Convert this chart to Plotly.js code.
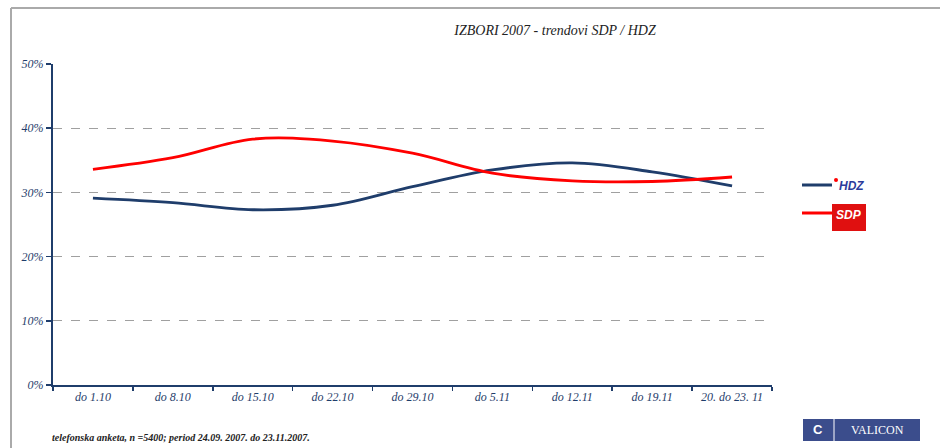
<!DOCTYPE html>
<html>
<head>
<meta charset="utf-8">
<script src="https://cdn.plot.ly/plotly-3.0.1.min.js"></script>
<style>html,body{margin:0;padding:0;background:#fff;}#chart{width:940px;height:448px;}</style>
</head>
<body>
<div id="chart"></div>
<script>
const categories = ['do 1.10','do 8.10','do 15.10','do 22.10','do 29.10','do 5.11','do 12.11','do 19.11','20. do 23. 11'];
const hdzValues = [29.1, 28.4, 27.3, 28.0, 30.9, 33.5, 34.6, 33.2, 31.0];
const sdpValues = [33.6, 35.4, 38.3, 38.0, 36.1, 33.0, 31.8, 31.7, 32.4];
const yTickValues = [0, 10, 20, 30, 40, 50];
const titleText = 'IZBORI 2007 - trendovi SDP / HDZ';
const footText = 'telefonska anketa, n =5400; period 24.09. 2007. do 23.11.2007.';

const navy = '#1f3d6b';
const red = '#ff0000';
const L = 53, R = 772, T = 64, B = 385;
const px = X => (X - L) / (R - L);
const py = Y => (B - Y) / (B - T);

const traces = [
  {x: categories, y: hdzValues, name: 'HDZ', type: 'scatter', mode: 'lines',
   line: {color: navy, width: 2.8, shape: 'spline', smoothing: 1}},
  {x: categories, y: sdpValues, name: 'SDP', type: 'scatter', mode: 'lines',
   line: {color: red, width: 2.8, shape: 'spline', smoothing: 1}}
];

const tickFont = {family: 'Liberation Serif', size: 12, color: navy};

const layout = {
  width: 940, height: 448,
  margin: {l: L, r: 940 - R, t: T, b: 448 - B, pad: 0},
  paper_bgcolor: '#fff', plot_bgcolor: '#fff',
  showlegend: false,
  title: {text: '<i>' + titleText + '</i>', x: 555 / 940, xanchor: 'center', y: 1 - 30 / 448, yanchor: 'middle',
          font: {family: 'Liberation Serif', size: 14, color: '#222'}},
  xaxis: {type: 'category', showgrid: false, zeroline: false, showline: true, linecolor: navy, linewidth: 2,
          tickmode: 'array', tickvals: categories, ticktext: categories.map(c => '<i>' + c + '</i>'),
          ticks: 'outside', ticklen: 4, tickcolor: navy, tickwidth: 1.5, tickson: 'boundaries',
          tickfont: tickFont, range: [-0.5, categories.length - 0.5], fixedrange: true},
  yaxis: {range: [0, 50], tickmode: 'array', tickvals: yTickValues, ticktext: yTickValues.map(v => '<i>' + v + '%</i>'),
          showgrid: true, gridcolor: '#a0a0a0', griddash: 'dash', gridwidth: 1, zeroline: false,
          showline: true, linecolor: navy, linewidth: 2, ticks: 'outside', ticklen: 5, tickcolor: navy, tickwidth: 1.5,
          tickfont: tickFont, fixedrange: true},
  shapes: [
    {type: 'line', xref: 'paper', yref: 'paper', x0: px(11), x1: px(940), y0: py(8), y1: py(8), line: {color: '#aaa', width: 2}},
    {type: 'line', xref: 'paper', yref: 'paper', x0: px(11), x1: px(11), y0: py(8), y1: py(448), line: {color: '#aaa', width: 2}},
    {type: 'line', xref: 'paper', yref: 'paper', x0: px(802), x1: px(832), y0: py(185), y1: py(185), line: {color: navy, width: 3}},
    {type: 'line', xref: 'paper', yref: 'paper', x0: px(802), x1: px(832), y0: py(213), y1: py(213), line: {color: red, width: 3}},
    {type: 'circle', xref: 'paper', yref: 'paper', x0: px(834), x1: px(838), y0: py(178), y1: py(182), fillcolor: red, line: {width: 0}},
    {type: 'rect', xref: 'paper', yref: 'paper', x0: px(832), x1: px(866), y0: py(231), y1: py(204), fillcolor: '#e01010', line: {width: 0}},
    {type: 'rect', xref: 'paper', yref: 'paper', x0: px(803), x1: px(920), y0: py(441), y1: py(419), fillcolor: '#3b4d8c', line: {width: 0}},
    {type: 'line', xref: 'paper', yref: 'paper', x0: px(834), x1: px(834), y0: py(441), y1: py(419), line: {color: '#fff', width: 1}}
  ],
  annotations: [
    {text: '<b><i>HDZ</i></b>', xref: 'paper', yref: 'paper', x: px(837), y: py(186), xanchor: 'left', yanchor: 'middle',
     showarrow: false, font: {family: 'Liberation Sans', size: 12, color: '#2b3b9b'}},
    {text: '<b><i>SDP</i></b>', xref: 'paper', yref: 'paper', x: px(849), y: py(215), xanchor: 'center', yanchor: 'middle',
     showarrow: false, font: {family: 'Liberation Sans', size: 12, color: '#fff'}},
    {text: 'VALICON', xref: 'paper', yref: 'paper', x: px(877), y: py(430), xanchor: 'center', yanchor: 'middle',
     showarrow: false, font: {family: 'Liberation Serif', size: 12, color: '#fff'}},
    {text: '<b>C</b>', xref: 'paper', yref: 'paper', x: px(818), y: py(430), xanchor: 'center', yanchor: 'middle',
     showarrow: false, font: {family: 'Liberation Sans', size: 13, color: '#fff'}},
    {text: '<b><i>' + footText + '</i></b>', xref: 'paper', yref: 'paper', x: px(50), y: py(438), xanchor: 'left', yanchor: 'middle',
     showarrow: false, font: {family: 'Liberation Serif', size: 10, color: '#222'}}
  ]
};

Plotly.newPlot('chart', traces, layout, {displayModeBar: false, staticPlot: true});
</script>
</body>
</html>
